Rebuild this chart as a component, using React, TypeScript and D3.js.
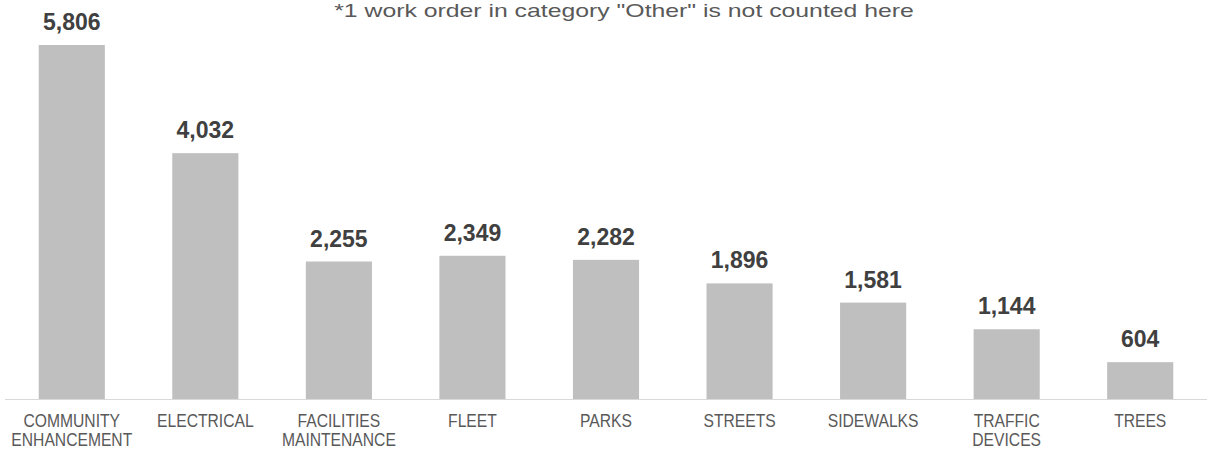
import { useEffect, useRef } from 'react';
import * as d3 from 'd3';

const categories: string[][] = [
    ['COMMUNITY', 'ENHANCEMENT'],
    ['ELECTRICAL'],
    ['FACILITIES', 'MAINTENANCE'],
    ['FLEET'],
    ['PARKS'],
    ['STREETS'],
    ['SIDEWALKS'],
    ['TRAFFIC', 'DEVICES'],
    ['TREES'],
];
const workOrders: number[] = [5806, 4032, 2255, 2349, 2282, 1896, 1581, 1144, 604];
const note = '*1 work order in category "Other" is not counted here';

const W = 1217;
const H = 450;

const App: React.FC = () => {
    const svgRef = useRef<SVGSVGElement>(null);

    useEffect(() => {
        if (!svgRef.current) return;
        const svg = d3.select(svgRef.current);
        svg.selectAll('*').remove();

        const left = 5, right = 1207, baseline = 399, top = 45;
        const keys = categories.map(c => c.join(' '));

        const x = d3.scaleBand<string>().domain(keys).range([left, right]).paddingInner(0.505).paddingOuter(0.2525);
        const y = d3.scaleLinear().domain([0, d3.max(workOrders)!]).range([baseline, top]);

        const font = 'Arial, "Liberation Sans", sans-serif';

        // the note is drawn wide and short in the original, so stretch it
        const title = svg.append('text')
            .attr('text-anchor', 'middle')
            .attr('font-family', font)
            .attr('font-size', 19)
            .attr('fill', '#595959')
            .text(note);
        const tw = (title.node() as SVGTextElement).getComputedTextLength() || 443;
        title.attr('transform', `translate(624,17) scale(${580 / tw},1)`);

        svg.selectAll('.bar')
            .data(workOrders)
            .join('rect')
            .attr('class', 'bar')
            .attr('x', (_, i) => x(keys[i])!)
            .attr('y', d => y(d))
            .attr('width', x.bandwidth())
            .attr('height', d => baseline - y(d))
            .attr('fill', '#BFBFBF');

        svg.selectAll('.val')
            .data(workOrders)
            .join('text')
            .attr('class', 'val')
            .attr('x', (_, i) => x(keys[i])! + x.bandwidth() / 2)
            .attr('y', d => y(d) - 15)
            .attr('text-anchor', 'middle')
            .attr('font-family', font)
            .attr('font-weight', 'bold')
            .attr('font-size', 23)
            .attr('fill', '#404040')
            .text(d => d3.format(',')(d));

        svg.append('line')
            .attr('x1', left)
            .attr('x2', right)
            .attr('y1', baseline + 0.5)
            .attr('y2', baseline + 0.5)
            .attr('stroke', '#D9D9D9')
            .attr('stroke-width', 1);

        // category labels are condensed: taller than wide
        const labels = svg.selectAll('.cat')
            .data(categories)
            .join('g')
            .attr('class', 'cat')
            .attr('transform', (_, i) => `translate(${x(keys[i])! + x.bandwidth() / 2},427) scale(0.87,1)`)
            .append('text')
            .attr('text-anchor', 'middle')
            .attr('font-family', font)
            .attr('font-size', 18)
            .attr('fill', '#595959');

        labels.selectAll('tspan')
            .data(d => d)
            .join('tspan')
            .attr('x', 0)
            .attr('dy', (_, j) => (j === 0 ? 0 : 19))
            .text(d => d);
    }, []);

    return (
        <svg
            ref={svgRef}
            width={W}
            height={H}
            style={{ position: 'absolute', left: 0, top: 0, background: '#fff' }}
        />
    );
};

export default App;
